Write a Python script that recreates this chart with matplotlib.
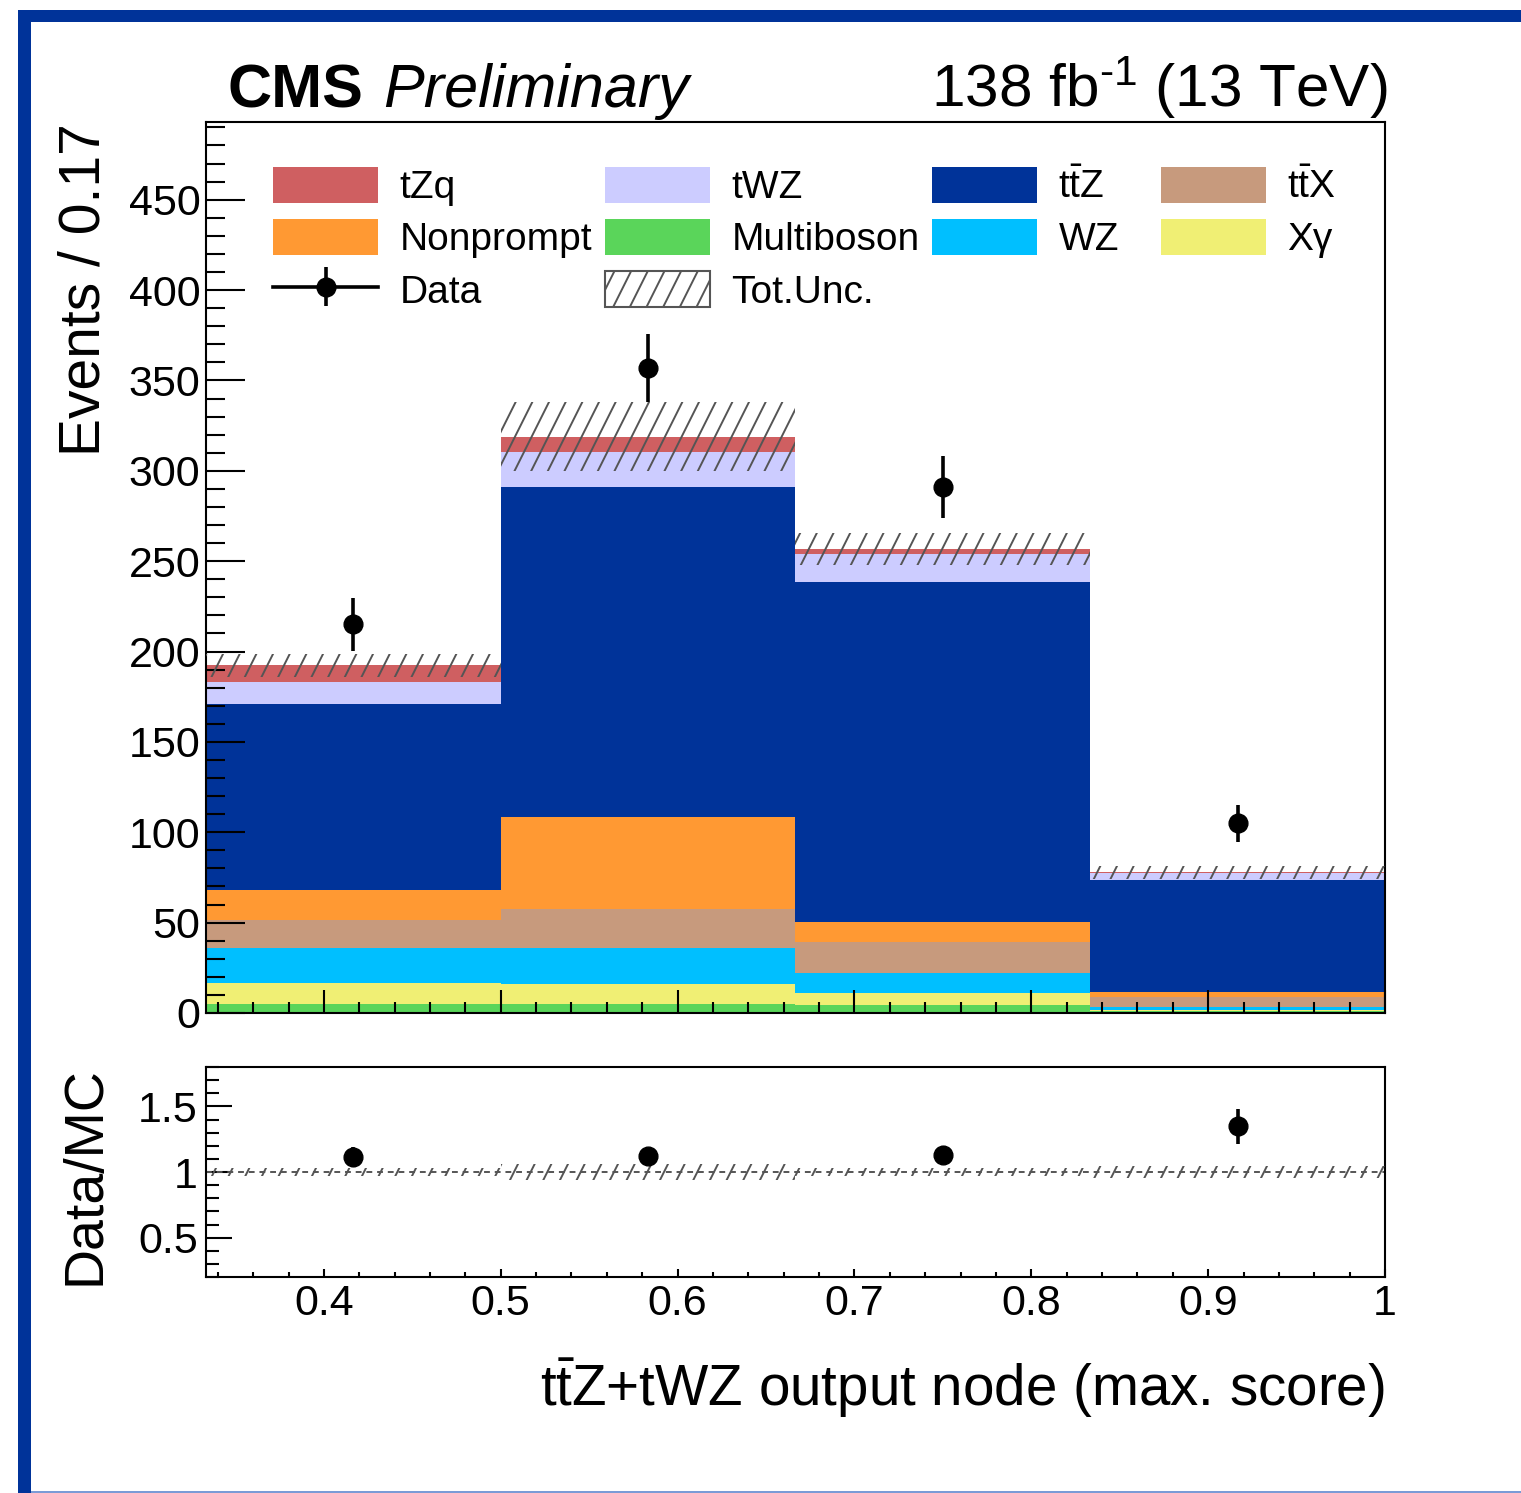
import numpy as np
import matplotlib
matplotlib.use("Agg")
import matplotlib.pyplot as plt
import matplotlib.hatch as mhatch
from matplotlib.path import Path
from matplotlib.patches import Patch, Rectangle
from matplotlib.lines import Line2D
from matplotlib.ticker import MultipleLocator, FuncFormatter

plt.rcParams['font.family'] = ['Liberation Sans', 'DejaVu Sans']
plt.rcParams['mathtext.fontset'] = 'custom'
plt.rcParams['mathtext.rm'] = 'Liberation Sans'
plt.rcParams['mathtext.it'] = 'Liberation Sans:italic'
plt.rcParams['mathtext.bf'] = 'Liberation Sans:bold'
plt.rcParams['hatch.linewidth'] = 1.4


class SteepHatch(mhatch.HatchPatternBase):
    # rayado '/' más vertical (pendiente 2), parecido al relleno 3004 de ROOT
    def __init__(self, hatch, density):
        self.num_lines = int(hatch.count('/') * density) // 2
        if self.num_lines:
            self.k = np.arange(-self.num_lines // 2 - 1, self.num_lines + 1)
            self.num_vertices = 2 * len(self.k)
        else:
            self.num_vertices = 0

    def set_vertices_and_codes(self, vertices, codes):
        x0 = self.k / self.num_lines
        vertices[0::2, 0] = x0
        vertices[0::2, 1] = 0.0
        vertices[1::2, 0] = x0 + 0.5
        vertices[1::2, 1] = 1.0
        codes[0::2] = Path.MOVETO
        codes[1::2] = Path.LINETO


mhatch._hatch_types = [SteepHatch if t is mhatch.NorthEastHatch else t
                       for t in mhatch._hatch_types]

# === DATOS ===
edges = np.array([1/3, 0.5, 2/3, 5/6, 1.0])

# procesos, apilados de abajo hacia arriba
multiboson = [5.0, 5.0, 4.6, 0.9]
xgamma = [11.6, 10.9, 6.6, 0.9]
wz = [19.5, 20.2, 10.9, 1.4]
ttx = [15.2, 21.5, 17.0, 5.7]
nonprompt = [16.7, 50.9, 11.3, 2.7]
ttz = [103.0, 182.8, 188.3, 62.0]
twz = [12.4, 19.0, 15.3, 4.0]
tzq = [9.0, 8.5, 2.8, 0.3]

tot_unc = [6.5, 19.0, 8.7, 3.7]
data = [215, 357, 291, 105]

ttz_lbl = r"t$\mathrm{\bar{t}}$Z"
ttx_lbl = r"t$\mathrm{\bar{t}}$X"
stack = [
    ("Multiboson", multiboson, "#5ad55a"),
    ("X\u03b3", xgamma, "#f0ef74"),
    ("WZ", wz, "#00bfff"),
    (ttx_lbl, ttx, "#c79a7d"),
    ("Nonprompt", nonprompt, "#ff9933"),
    (ttz_lbl, ttz, "#003399"),
    ("tWZ", twz, "#ccccff"),
    ("tZq", tzq, "#cf5f61"),
]

W, H = 1521, 1493
HATCH_COL = "#555555"

# === FIGURA ===
fig = plt.figure(figsize=(W / 100, H / 100), dpi=100)
ax = fig.add_axes([206 / W, 1 - 1013 / H, (1385 - 206) / W, (1013 - 122) / H])
rax = fig.add_axes([206 / W, 1 - 1277 / H, (1385 - 206) / W, (1277 - 1067) / H])

centers = 0.5 * (edges[:-1] + edges[1:])
widths = np.diff(edges)

bottom = np.zeros(len(centers))
handles = {}
for name, vals, col in stack:
    vals = np.array(vals)
    ax.stairs(bottom + vals, edges, baseline=bottom, fill=True,
              color=col, linewidth=0)
    handles[name] = Patch(facecolor=col, edgecolor="none")
    bottom = bottom + vals
total = bottom

unc = np.array(tot_unc)
ax.bar(centers, 2 * unc, bottom=total - unc, width=widths, fill=False,
       hatch="//", edgecolor=HATCH_COL, linewidth=0, zorder=3)

data = np.array(data, dtype=float)
derr = np.sqrt(data)
eb = ax.errorbar(centers, data, yerr=derr, fmt="o", color="black",
                 markersize=13.5, elinewidth=2.6, capsize=0, zorder=5)

ax.set_xlim(edges[0], edges[-1])
ax.set_ylim(0, 493)

# panel del cociente
ratio = data / total
rerr = derr / total
runc = unc / total
rax.bar(centers, 2 * runc, bottom=1 - runc, width=widths, fill=False,
        hatch="//", edgecolor=HATCH_COL, linewidth=0, zorder=3)
rax.axhline(1.0, color=HATCH_COL, linestyle=(0, (3, 2.5)), linewidth=1.4, zorder=2)
rax.errorbar(centers, ratio, yerr=rerr, fmt="o", color="black",
             markersize=13.5, elinewidth=2.6, capsize=0, zorder=5)
rax.set_xlim(edges[0], edges[-1])
rax.set_ylim(0.2, 1.8)

# ejes estilo ROOT
for a in (ax, rax):
    for s in a.spines.values():
        s.set_linewidth(1.5)
    a.xaxis.set_major_locator(MultipleLocator(0.1))
    a.xaxis.set_minor_locator(MultipleLocator(0.02))
    a.tick_params(which="both", direction="in", width=1.5, top=False, right=False,
                  labelsize=31)

ax.yaxis.set_major_locator(MultipleLocator(50))
ax.yaxis.set_minor_locator(MultipleLocator(10))
ax.tick_params(axis="y", which="major", length=28, pad=4)
ax.tick_params(axis="y", which="minor", length=14)
ax.tick_params(axis="x", which="major", length=16.5)
ax.tick_params(axis="x", which="minor", length=8)
ax.tick_params(axis="x", labelbottom=False)

rax.yaxis.set_major_locator(MultipleLocator(0.5))
rax.yaxis.set_minor_locator(MultipleLocator(0.1))
rax.yaxis.set_major_formatter(FuncFormatter(lambda v, p: f"{v:g}"))
rax.xaxis.set_major_formatter(FuncFormatter(lambda v, p: f"{v:g}"))
rax.tick_params(axis="y", which="major", length=19, pad=6)
rax.tick_params(axis="y", which="minor", length=9.5)
rax.tick_params(axis="x", which="major", length=6, pad=5)
rax.tick_params(axis="x", which="minor", length=3.5)

# títulos
fig.text(100 / W, 1 - 123 / H, "Events / 0.17", rotation=90, rotation_mode="anchor",
         ha="right", va="baseline", fontsize=41)
fig.text(100 / W, 1 - 1066 / H, "Data/MC", rotation=90, rotation_mode="anchor",
         ha="right", va="baseline", fontsize=40)
fig.text(1385 / W, 1 - 1406 / H, r"t$\mathrm{\bar{t}}$Z+tWZ output node (max. score)",
         ha="right", va="baseline", fontsize=40.7)
fig.text(228 / W, 1 - 107 / H, "CMS", fontweight="bold", fontsize=44,
         ha="left", va="baseline")
fig.text(383 / W, 1 - 107 / H, "Preliminary", fontstyle="italic", fontsize=44,
         ha="left", va="baseline")
fig.text(1388 / W, 1 - 107 / H, r"138 fb$^{\text{-}1}$ (13 TeV)", fontsize=43.4,
         ha="right", va="baseline")

# leyenda en columnas
unc_handle = Patch(facecolor="white", edgecolor=HATCH_COL, hatch="//", linewidth=1.5)
data_handle = (Line2D([], [], color="black", linewidth=2.6), eb)
columns = [
    (273, [(handles["tZq"], "tZq"), (handles["Nonprompt"], "Nonprompt"), (data_handle, "Data")]),
    (605, [(handles["tWZ"], "tWZ"), (handles["Multiboson"], "Multiboson"), (unc_handle, "Tot.Unc.")]),
    (932, [(handles[ttz_lbl], ttz_lbl), (handles["WZ"], "WZ")]),
    (1161, [(handles[ttx_lbl], ttx_lbl), (handles["X\u03b3"], "X\u03b3")]),
]
for x0, items in columns:
    fig.legend([h for h, _ in items], [l for _, l in items],
               loc="upper left", bbox_to_anchor=(x0 / W, 1 - 167 / H),
               frameon=False, fontsize=28, handlelength=2.7, handleheight=1.05,
               handletextpad=0.55, labelspacing=0.33, borderpad=0,
               borderaxespad=0)

# marco azul
blue = "#003399"
fig.add_artist(Rectangle((18 / W, 1 - 22 / H), (W - 18) / W, 12 / H,
                         transform=fig.transFigure, color=blue, lw=0))
fig.add_artist(Rectangle((18 / W, 0), 13 / W, (H - 10) / H,
                         transform=fig.transFigure, color=blue, lw=0))
fig.add_artist(Rectangle((31 / W, 0), (W - 31) / W, 2.5 / H,
                         transform=fig.transFigure, color="#7b9bd6", lw=0))

fig.savefig("out.png", dpi=100)
